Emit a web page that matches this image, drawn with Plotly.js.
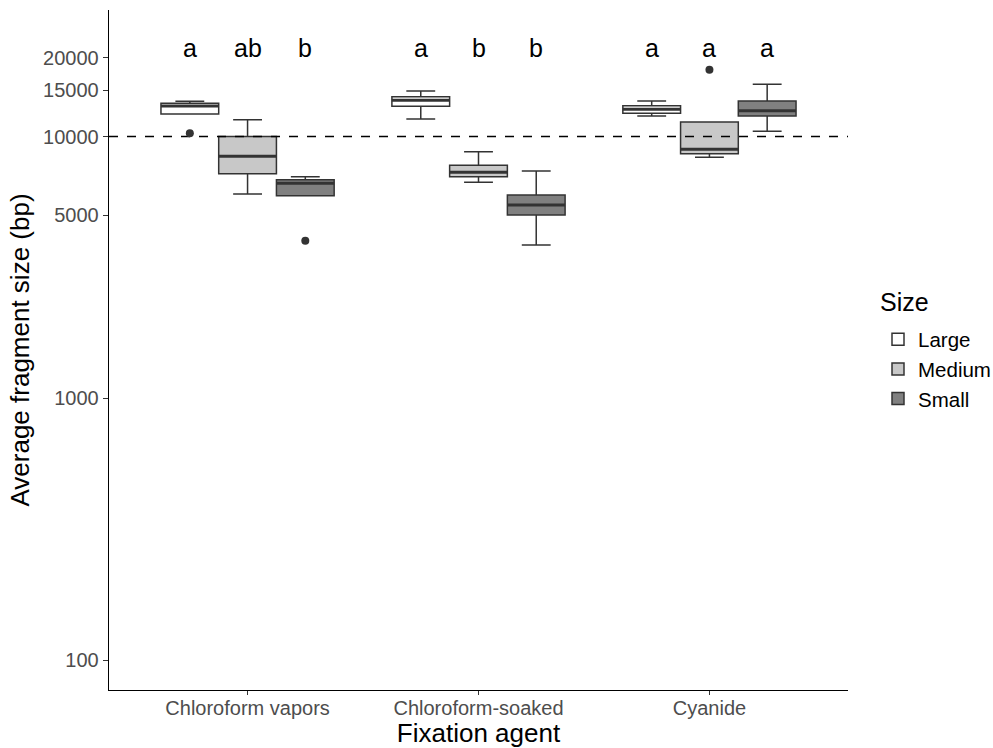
<!DOCTYPE html>
<html>
<head>
<meta charset="utf-8">
<script src="https://cdn.plot.ly/plotly-3.0.1.min.js"></script>
<style>html,body{margin:0;padding:0;background:#fff;}#chart{width:993px;height:748px;}</style>
</head>
<body>
<div id="chart"></div>
<script>
// ---- data ----
const agents = ["Chloroform vapors", "Chloroform-soaked", "Cyanide"];
const sizes = ["Large", "Medium", "Small"];

const largeLower  = [12190, 11665, 11977];
const largeQ1     = [12190, 13045, 12265];
const largeMedian = [13080, 13750, 12700];
const largeQ3     = [13390, 14190, 13115];
const largeUpper  = [13630, 14920, 13665];

const mediumLower  = [6031, 6683, 8328];
const mediumQ1     = [7212, 7022, 8597];
const mediumMedian = [8402, 7300, 8935];
const mediumQ3     = [10000, 7762, 11360];
const mediumUpper  = [11590, 8750, 11360];

const smallLower  = [5943, 3850, 10470];
const smallQ1     = [5943, 5012, 11977];
const smallMedian = [6625, 5474, 12548];
const smallQ3     = [6838, 5977, 13665];
const smallUpper  = [7022, 7385, 15850];

// outliers: agent index and value, per size
const largeOutAgent = [0];   const largeOutValue = [10285];
const mediumOutAgent = [2];  const mediumOutValue = [18000];
const smallOutAgent = [0];   const smallOutValue = [3999];

// significance letters per agent (Large, Medium, Small)
const letters = [["a", "ab", "b"], ["a", "b", "b"], ["a", "a", "a"]];
const letterLevel = 21780;
const refLine = 10000;
const yTicks = [100, 1000, 5000, 10000, 15000, 20000];

const fills = ["#ffffff", "#c8c8c8", "#808080"];
const stats = [
  [largeLower, largeQ1, largeMedian, largeQ3, largeUpper],
  [mediumLower, mediumQ1, mediumMedian, mediumQ3, mediumUpper],
  [smallLower, smallQ1, smallMedian, smallQ3, smallUpper]
];
const outs = [[largeOutAgent, largeOutValue], [mediumOutAgent, mediumOutValue], [smallOutAgent, smallOutValue]];
const pos = agents.map((a, i) => i);
const offset = 0.25;      // dodge between sizes
const halfBox = 0.125;    // half box width

const traces = [];
// reference line
traces.push({
  type: "scatter", mode: "lines", x: [-0.6, 2.6], y: [refLine, refLine],
  line: {color: "#000000", width: 1.3, dash: "dash"}, showlegend: false, hoverinfo: "skip"
});
sizes.forEach((s, k) => {
  const st = stats[k];
  traces.push({
    type: "box", name: s, x: pos,
    lowerfence: st[0], q1: st[1], median: st[2], q3: st[3], upperfence: st[4],
    fillcolor: fills[k], line: {color: "#333333", width: 1.5},
    whiskerwidth: 0.5, boxpoints: false
  });
});
// thicker median lines (ggplot style)
sizes.forEach((s, k) => {
  const xs = [], ys = [];
  pos.forEach((p, i) => {
    const c = p + (k - 1) * offset;
    xs.push(c - halfBox, c + halfBox, null);
    ys.push(stats[k][2][i], stats[k][2][i], null);
  });
  traces.push({
    type: "scatter", mode: "lines", x: xs, y: ys,
    line: {color: "#333333", width: 3}, showlegend: false, hoverinfo: "skip"
  });
});
sizes.forEach((s, k) => {
  traces.push({
    type: "scatter", mode: "markers",
    x: outs[k][0].map(i => i + (k - 1) * offset), y: outs[k][1],
    marker: {color: "#333333", size: 8}, showlegend: false, hoverinfo: "skip"
  });
});

const annotations = [];
agents.forEach((a, i) => {
  letters[i].forEach((t, k) => {
    annotations.push({
      x: i + (k - 1) * offset, y: Math.log10(letterLevel), xref: "x", yref: "y",
      text: t, showarrow: false, font: {size: 25, color: "#000000"}
    });
  });
});
// legend title
annotations.push({
  x: 1.0406, y: 0.5706, xref: "paper", yref: "paper", xanchor: "left", yanchor: "middle",
  text: "Size", showarrow: false, font: {size: 25, color: "#000000"}
});

const layout = {
  width: 993, height: 748,
  margin: {l: 109, r: 145, t: 10, b: 58, autoexpand: false},
  paper_bgcolor: "#ffffff", plot_bgcolor: "#ffffff",
  font: {family: "Liberation Sans, Arial, sans-serif", color: "#000000"},
  boxmode: "group", boxgap: 0.25, boxgroupgap: 0,
  xaxis: {
    range: [-0.6, 2.6], tickvals: pos, ticktext: agents, automargin: true,
    showline: true, linecolor: "#000000", linewidth: 1.3, mirror: false,
    ticks: "outside", ticklen: 4, tickcolor: "#333333", showgrid: false, zeroline: false,
    tickfont: {size: 20, color: "#4d4d4d"}, ticklabelstandoff: -4,
    title: {text: "Fixation agent", font: {size: 26, color: "#000000"}, standoff: 6}
  },
  yaxis: {
    type: "log", range: [1.8854, 4.4833],
    tickvals: yTicks, ticktext: yTicks.map(String),
    showline: true, linecolor: "#000000", linewidth: 1.3,
    ticks: "outside", ticklen: 5, tickcolor: "#333333", showgrid: false, zeroline: false,
    tickfont: {size: 20, color: "#4d4d4d"},
    title: {text: "Average fragment size (bp)", font: {size: 26, color: "#000000"}, standoff: 6}
  },
  legend: {
    x: 1.0406, xanchor: "left", y: 0.545, yanchor: "top",
    font: {size: 20.5, color: "#000000"}, itemwidth: 30
  },
  showlegend: true,
  annotations: annotations
};

Plotly.newPlot("chart", traces, layout, {displayModeBar: false, staticPlot: true});
</script>
</body>
</html>
